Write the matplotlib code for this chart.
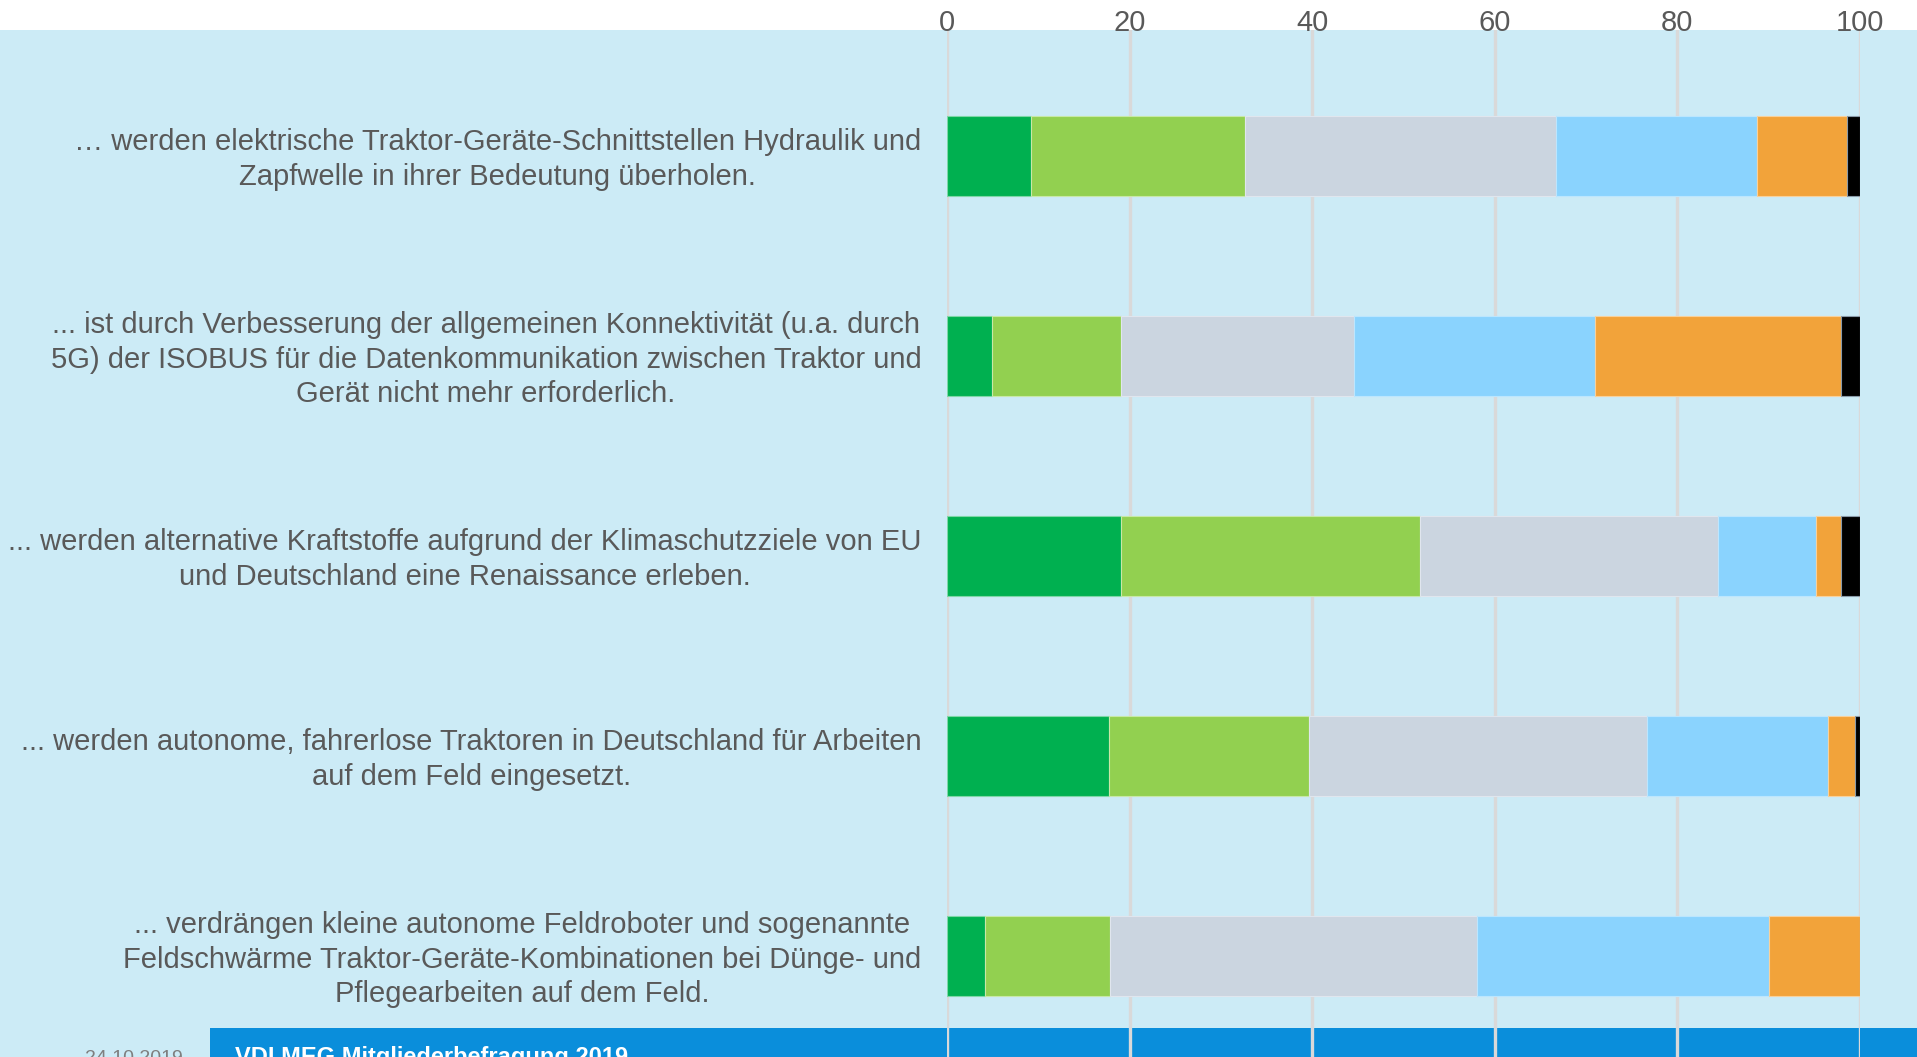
import numpy as np
import matplotlib.pyplot as plt
from matplotlib.patches import Rectangle

plt.rcParams['font.family'] = ['Liberation Sans', 'DejaVu Sans']

# Statements (top to bottom)
labels = [
    "… werden elektrische Traktor-Geräte-Schnittstellen Hydraulik und\nZapfwelle in ihrer Bedeutung überholen.",
    "... ist durch Verbesserung der allgemeinen Konnektivität (u.a. durch\n5G) der ISOBUS für die Datenkommunikation zwischen Traktor und\nGerät nicht mehr erforderlich.",
    "... werden alternative Kraftstoffe aufgrund der Klimaschutzziele von EU\nund Deutschland eine Renaissance erleben.",
    "... werden autonome, fahrerlose Traktoren in Deutschland für Arbeiten\nauf dem Feld eingesetzt.",
    "... verdrängen kleine autonome Feldroboter und sogenannte\nFeldschwärme Traktor-Geräte-Kombinationen bei Dünge- und\nPflegearbeiten auf dem Feld.",
]

# Answer shares in percent, one list per answer category
seg_1 = [9.2, 4.9, 19.1, 17.7, 4.2]
seg_2 = [23.4, 14.2, 32.7, 22.0, 13.6]
seg_3 = [34.1, 25.5, 32.6, 37.0, 40.2]
seg_4 = [22.0, 26.4, 10.8, 19.8, 32.0]
seg_5 = [9.9, 26.9, 2.7, 2.9, 10.0]
seg_6 = [1.4, 2.1, 2.1, 0.6, 0.0]

segments = [seg_1, seg_2, seg_3, seg_4, seg_5, seg_6]
colors = ['#00B050', '#92D050', '#CBD5E0', '#8AD3FE', '#F2A33A', '#000000']
edges = ['#7FD7A7', '#C8E8A7', '#E0E6EE', '#BCE6FE', '#F8D19C', '#8A9AA8']

bg = '#CCEBF6'
text_col = '#595959'

fig = plt.figure(figsize=(19.17, 10.57), dpi=100)
fig.patch.set_facecolor('white')

top_px = 30
fig.patches.append(Rectangle((0, 0), 1, 1 - top_px / 1057, transform=fig.transFigure,
                             facecolor=bg, edgecolor='none', zorder=-10))

ax = fig.add_axes([947 / 1917, 0, (1860 - 947) / 1917, 1 - top_px / 1057])
ax.set_facecolor('none')

y = np.arange(len(labels))
left = np.zeros(len(labels))
for vals, c, ec in zip(segments, colors, edges):
    vals = np.array(vals)
    ax.barh(y, vals, left=left, height=0.4, color=c, edgecolor=ec, linewidth=0.8, zorder=3)
    left += vals

ax.set_xlim(0, 100)
ax.set_ylim((1057 - 156) / 200, (top_px - 156) / 200)
ax.set_xticks([0, 20, 40, 60, 80, 100])
ax.xaxis.tick_top()
ax.tick_params(axis='x', length=0, pad=-5, labelsize=21, labelcolor=text_col)
ax.set_yticks([])
ax.grid(axis='x', color='#D9D9D9', linewidth=2.4, zorder=1)
for s in ax.spines.values():
    s.set_visible(False)

for yi, lab in zip(y, labels):
    ax.text(-2.8, yi + 0.018, lab, ha='right', va='center', multialignment='center',
            fontsize=21, color=text_col, linespacing=1.3)

# footer band
ax.add_patch(Rectangle((210 / 1917, 0), 1, (1057 - 1028) / 1057, transform=fig.transFigure,
                       facecolor='#0A8EDB', edgecolor='none', clip_on=False, zorder=0.5))
fig.text(235 / 1917, (1057 - 1046) / 1057, 'VDI MEG Mitgliederbefragung 2019', ha='left', va='top',
         fontsize=17, fontweight='bold', color='white')
fig.text(183 / 1917, (1057 - 1050) / 1057, '24.10.2019', ha='right', va='top',
         fontsize=14, color='#7F7F7F')

fig.savefig('out.png', dpi=100, facecolor=fig.get_facecolor())
